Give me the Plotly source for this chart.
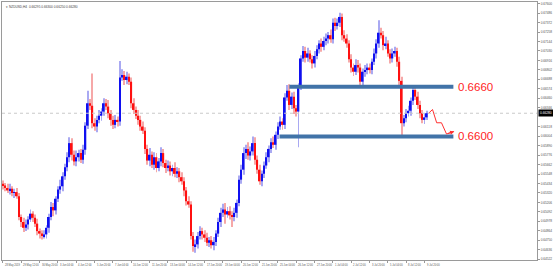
import plotly.graph_objects as go

# ---- data (prices in pips, 1 pip = 0.0001) ----
first_open = 6543
close_pips = [
    6541, 6538, 6535, 6537, 6532, 6533, 6528, 6503, 6497, 6490,
    6494, 6500, 6507, 6502, 6495, 6486, 6483, 6480, 6482, 6490,
    6503, 6515, 6511, 6525, 6536, 6540, 6552, 6563, 6575, 6592,
    6578, 6570, 6575, 6580, 6572, 6584, 6613, 6640, 6637, 6616,
    6612, 6620, 6625, 6630, 6640, 6636, 6628, 6620, 6614, 6620,
    6618, 6671, 6674, 6668, 6672, 6666, 6640, 6632, 6625, 6620,
    6612, 6607, 6585, 6571, 6578, 6566, 6575, 6562, 6570, 6580,
    6568, 6562, 6565, 6558, 6562, 6555, 6558, 6551, 6546, 6535,
    6522, 6518, 6480, 6468, 6470, 6480, 6486, 6482, 6478, 6472,
    6475, 6469, 6473, 6483, 6497, 6508, 6512, 6506, 6510, 6505,
    6503, 6508, 6520, 6548, 6560, 6580, 6585, 6577, 6582, 6592,
    6572, 6560, 6546, 6555, 6565, 6575, 6585, 6593, 6590, 6602,
    6612, 6618, 6614, 6647, 6655, 6638, 6648, 6634, 6630, 6661,
    6694, 6703, 6695, 6700, 6693, 6688, 6697, 6705, 6712, 6708,
    6715, 6718, 6722, 6717, 6737, 6733, 6737, 6744, 6722, 6718,
    6712, 6693, 6683, 6678, 6686, 6683, 6666, 6678, 6680, 6683,
    6680, 6690, 6700, 6712, 6725, 6722, 6710, 6712, 6700, 6694,
    6700, 6703, 6690, 6667, 6616, 6622, 6628, 6631, 6643, 6656,
    6648, 6638, 6628, 6620, 6623, 6628,
]
upper_wick = [
    4, 3, 5, 6, 3, 4, 5, 4, 3, 5,
    6, 4, 5, 3, 4, 6, 3, 4, 5, 3,
    4, 6, 5, 3, 4, 8, 5, 4, 6, 7,
    6, 5, 8, 4, 5, 6, 4, 15, 5, 39,
    6, 5, 7, 4, 6, 5, 8, 4, 5, 6,
    4, 20, 7, 5, 6, 4, 5, 6, 4, 7,
    5, 6, 4, 5, 8, 4, 6, 5, 4, 7,
    5, 4, 6, 5, 4, 7, 5, 4, 6, 5,
    4, 6, 4, 5, 6, 5, 6, 4, 5, 6,
    4, 5, 6, 4, 5, 6, 7, 8, 5, 6,
    5, 6, 4, 5, 6, 7, 5, 8, 6, 8,
    7, 5, 6, 4, 5, 6, 4, 5, 7, 4,
    5, 6, 4, 5, 7, 8, 5, 6, 4, 3,
    4, 6, 5, 7, 4, 5, 6, 5, 4, 6,
    5, 6, 4, 7, 5, 6, 5, 5, 4, 6,
    5, 4, 6, 5, 7, 6, 5, 4, 6, 5,
    5, 4, 6, 5, 15, 6, 5, 8, 4, 5,
    6, 5, 4, 6, 5, 4, 5, 6, 4, 5,
    4, 6, 5, 4, 5, 3,
]
lower_wick = [
    5, 4, 3, 5, 4, 6, 3, 4, 6, 5,
    4, 6, 3, 5, 4, 5, 6, 4, 3, 5,
    6, 4, 7, 5, 4, 5, 6, 4, 5, 6,
    7, 5, 6, 5, 4, 5, 6, 4, 5, 6,
    5, 7, 4, 6, 5, 4, 6, 7, 5, 4,
    6, 5, 4, 6, 5, 4, 6, 5, 4, 6,
    5, 4, 6, 5, 7, 4, 6, 5, 4, 6,
    5, 6, 4, 5, 6, 4, 5, 6, 4, 7,
    5, 4, 4, 7, 8, 5, 4, 6, 5, 4,
    5, 4, 6, 5, 4, 6, 5, 11, 4, 5,
    12, 5, 6, 4, 5, 6, 7, 5, 6, 5,
    6, 5, 4, 6, 5, 4, 6, 5, 4, 6,
    5, 4, 6, 5, 4, 6, 5, 7, 6, 43,
    5, 4, 6, 5, 4, 6, 5, 4, 5, 6,
    4, 5, 6, 4, 5, 6, 4, 5, 6, 4,
    5, 4, 6, 5, 4, 6, 5, 4, 6, 5,
    4, 5, 4, 6, 5, 4, 6, 5, 4, 6,
    5, 4, 6, 5, 16, 4, 5, 4, 6, 5,
    4, 5, 6, 4, 5, 3,
]

x_tick_labels = [
    "28 May 2019", "29 May 12:00", "30 May 20:00", "3 Jun 04:00", "4 Jun 12:00",
    "5 Jun 20:00", "7 Jun 04:00", "10 Jun 12:00", "11 Jun 20:00", "13 Jun 04:00",
    "14 Jun 12:00", "17 Jun 20:00", "19 Jun 04:00", "20 Jun 12:00", "21 Jun 20:00",
    "25 Jun 04:00", "26 Jun 12:00", "27 Jun 20:00", "1 Jul 04:00", "2 Jul 12:00",
    "3 Jul 20:00", "5 Jul 04:00", "8 Jul 12:00", "9 Jul 20:00",
]
bars_per_label = 8

y_tick_values = [
    0.67600, 0.67486, 0.67372, 0.67258, 0.67144, 0.67030, 0.66916, 0.66802,
    0.66688, 0.66574, 0.66460, 0.66346, 0.66118, 0.66004, 0.65890,
    0.65776, 0.65662, 0.65548, 0.65434, 0.65320, 0.65206, 0.65092, 0.64978,
    0.64864, 0.64750, 0.64636, 0.64522,
]

levels = [0.6660, 0.6600]
level_labels = ["0.6660", "0.6600"]
level_start_bar = [125.0, 120.7]
level_end_bar = [196.6, 196.6]
level_label_bar = 197.9

proj_bars = [185.8, 187.5, 189.3, 191.4, 193.6, 196.9]
proj_prices = [0.66280, 0.66325, 0.66165, 0.66165, 0.66030, 0.66060]

title_text = "NZDUSD,H4  0.66295 0.66300 0.66250 0.66280"

x_range = [-0.43, 233.1]
y_range = [0.64512, 0.67620]

# ---- build ----
n = len(close_pips)
opens = [first_open] + close_pips[:-1]
o = [v / 10000 for v in opens]
c = [v / 10000 for v in close_pips]
hi = [max(opens[i], close_pips[i]) + upper_wick[i] for i in range(n)]
lo = [min(opens[i], close_pips[i]) - lower_wick[i] for i in range(n)]
hi = [v / 10000 for v in hi]
lo = [v / 10000 for v in lo]
idx = list(range(n))
up = [close_pips[i] >= opens[i] for i in range(n)]

BLUE = "#1010f0"
RED = "#ff1010"
wick_colors = ["#a9a9f2" if u else "#f6a8a8" for u in up]
body_colors = [BLUE if u else RED for u in up]

fig = go.Figure()
fig.add_trace(go.Bar(
    x=idx, y=[hi[i] - lo[i] for i in range(n)], base=lo, width=0.42,
    marker=dict(color=wick_colors, line=dict(width=0)), hoverinfo="skip"))
fig.add_trace(go.Bar(
    x=idx, y=[max(abs(c[i] - o[i]), 0.00006) for i in range(n)],
    base=[min(o[i], c[i]) for i in range(n)], width=0.72,
    marker=dict(color=body_colors, line=dict(width=0))))

for lv, xs, xe in zip(levels, level_start_bar, level_end_bar):
    fig.add_trace(go.Scatter(x=[xs, xe], y=[lv, lv], mode="lines",
                             line=dict(color="#4173a8", width=4)))

fig.add_trace(go.Scatter(x=proj_bars, y=proj_prices, mode="lines",
                         line=dict(color="#ff3030", width=1)))

last = c[-1]
fig.add_shape(type="line", xref="paper", x0=0, x1=1, y0=last, y1=last,
              line=dict(color="#c9c9c9", width=1, dash="dot"))

ann = []
for lv, txt in zip(levels, level_labels):
    ann.append(dict(x=level_label_bar, y=lv, text=txt, showarrow=False,
                    xanchor="left", yanchor="middle",
                    font=dict(family="Liberation Sans, Arial", size=11.5, color="#ff2424")))
ann.append(dict(x=proj_bars[-1], y=proj_prices[-1], ax=proj_bars[-2], ay=proj_prices[-2],
                xref="x", yref="y", axref="x", ayref="y", text="", showarrow=True,
                arrowhead=2, arrowsize=0.8, arrowwidth=1, arrowcolor="#ff3030"))
for k, lab in enumerate(x_tick_labels):
    ann.append(dict(x=k * bars_per_label, y=0, yref="paper", text=lab, showarrow=False,
                    xanchor="left", yanchor="top", yshift=-1, xshift=0,
                    font=dict(family="Liberation Sans", size=2.6, color="#555")))
ann.append(dict(x=0, y=1, xref="paper", yref="paper", text="\u25BE " + title_text,
                showarrow=False, xanchor="left", yanchor="top", xshift=2, yshift=-1,
                font=dict(family="Liberation Sans", size=3.2, color="#444")))
ann.append(dict(x=1, y=last, xref="paper", yref="y", text=f"{last:.5f}",
                showarrow=False, xanchor="left", yanchor="middle", xshift=1,
                bgcolor="#000000", borderpad=1,
                font=dict(family="Liberation Sans", size=3.2, color="#ffffff")))

fig.update_layout(
    width=553, height=267,
    margin=dict(l=1, r=14, t=1, b=7),
    paper_bgcolor="white", plot_bgcolor="white",
    barmode="overlay", showlegend=False,
    annotations=ann,
    xaxis=dict(range=x_range, showgrid=False, zeroline=False,
               tickvals=[k * bars_per_label for k in range(len(x_tick_labels))],
               showticklabels=False, ticks="outside", ticklen=2, tickcolor="#999",
               showline=True, linecolor="#9a9a9a", linewidth=1, mirror=True),
    yaxis=dict(range=y_range, side="right", showgrid=False, zeroline=False,
               tickvals=y_tick_values, ticktext=[f"{v:.5f}" for v in y_tick_values],
               ticks="outside", ticklen=2, tickcolor="#999",
               tickfont=dict(family="Liberation Sans", size=3.2, color="#555"),
               showline=True, linecolor="#9a9a9a", linewidth=1, mirror=True),
)

fig.write_html("out.html")
